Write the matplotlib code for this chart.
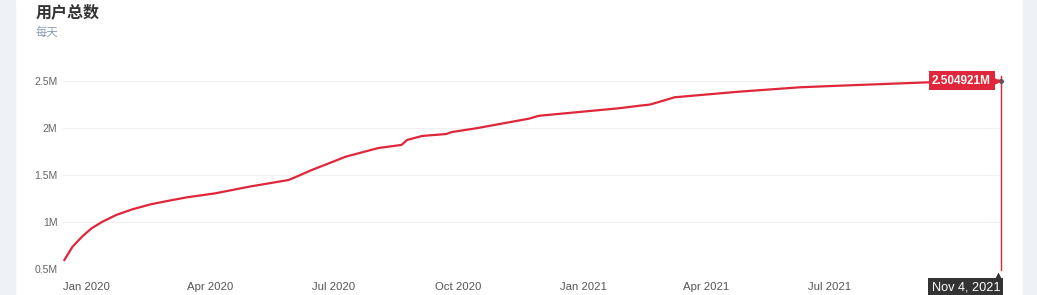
import numpy as np
import pandas as pd
import matplotlib
matplotlib.use('Agg')
import matplotlib.pyplot as plt
import matplotlib.dates as mdates
from matplotlib.patches import Rectangle
from matplotlib.transforms import offset_copy

plt.rcParams['font.family'] = ['Liberation Sans', 'Noto Sans CJK SC', 'DejaVu Sans']

# 用户总数（每天），从图上读出的近似值（单位：百万）
dates = ['2019-12-16', '2019-12-22', '2019-12-29', '2020-01-05', '2020-01-13',
         '2020-01-23', '2020-02-04', '2020-02-18', '2020-03-02', '2020-03-15',
         '2020-04-05', '2020-04-30', '2020-05-29', '2020-06-01', '2020-06-05',
         '2020-06-15', '2020-07-10', '2020-08-03', '2020-08-20', '2020-08-24',
         '2020-09-04', '2020-09-22', '2020-09-26', '2020-10-14', '2020-11-22',
         '2020-11-29', '2021-01-27', '2021-02-11', '2021-02-19', '2021-03-09',
         '2021-04-25', '2021-06-09', '2021-07-08', '2021-09-10', '2021-10-10',
         '2021-11-04']
users = [0.596, 0.737, 0.844, 0.933, 1.003,
         1.074, 1.135, 1.19, 1.227, 1.262,
         1.305, 1.376, 1.447, 1.465, 1.49,
         1.553, 1.695, 1.787, 1.82, 1.872,
         1.915, 1.936, 1.957, 1.997, 2.10,
         2.13, 2.21, 2.237, 2.25, 2.327,
         2.386, 2.433, 2.45, 2.485, 2.495,
         2.504921]
yticks = [0.5, 1.0, 1.5, 2.0, 2.5]
ytick_labels = ['0.5M', '1M', '1.5M', '2M', '2.5M']
xticks = ['2020-01-01', '2020-04-01', '2020-07-01', '2020-10-01',
          '2021-01-01', '2021-04-01', '2021-07-01']
title = '用户总数'
subtitle = '每天'
last_label = '2.504921M'
date_label = 'Nov 4, 2021'

x = pd.to_datetime(dates)
y = np.array(users) * 1e6
red = '#e0263a'

W, H = 1037, 295
fig = plt.figure(figsize=(W / 100, H / 100), dpi=100)
fig.patch.set_facecolor('white')
# 卡片两侧的灰色页面背景
fig.patches.append(Rectangle((0, 0), 15 / W, 1, transform=fig.transFigure,
                             color='#eef1f5', zorder=0))
fig.patches.append(Rectangle((1023 / W, 0), 1 - 1023 / W, 1, transform=fig.transFigure,
                             color='#eef1f5', zorder=0))

ax = fig.add_axes([63 / W, 1 - 269 / H, (1001 - 63) / W, (269 - 70) / H])
ax.set_facecolor('none')
ax.plot(x, y, color=red, lw=1.6, zorder=3)

ax.set_xlim(pd.Timestamp('2019-12-15'), x[-1])
ax.set_ylim(0.5e6, 2.617e6)
for s in ax.spines.values():
    s.set_visible(False)
ax.set_yticks(np.array(yticks) * 1e6)
ax.set_yticklabels(ytick_labels)
ax.set_xticks(pd.to_datetime(xticks))
ax.xaxis.set_major_formatter(mdates.DateFormatter('%b %Y'))
ax.tick_params(axis='y', length=0, pad=4, labelsize=7.5, labelcolor='#666666')
ax.tick_params(axis='x', length=0, pad=9, labelsize=8.2, labelcolor='#555555')
ax.grid(axis='y', color='#f0f0f0', lw=0.8)
ax.grid(axis='x', visible=False)

# 最后一个点的十字线
ax.axvline(x[-1], ymin=-0.005, ymax=0.97, color=red, lw=1, zorder=4, clip_on=False)
ax.plot([x[-1]], [y[-1]], marker='o', ms=2.5, color='#555555', zorder=5, clip_on=False)

# 数值标签（带箭头）
tr = offset_copy(ax.transData, fig=fig, x=-10 * 0.72, y=0, units='points')
ax.text(x[-1], y[-1], last_label, transform=tr, ha='right', va='center',
        color='white', fontsize=8.5, fontweight='bold', zorder=6,
        bbox=dict(boxstyle='square,pad=0.3', fc=red, ec='none'))
tr2 = offset_copy(ax.transData, fig=fig, x=-5 * 0.72, y=0, units='points')
ax.plot([x[-1]], [y[-1]], marker='>', ms=7, color=red, mec='none',
        transform=tr2, zorder=6, clip_on=False)

# 底部日期标签
ax.text(x[-1], 0, date_label, transform=offset_copy(ax.get_xaxis_transform(), fig=fig,
        x=-1 * 0.72, y=-18 * 0.72, units='points'),
        ha='right', va='center', color='white', fontsize=9.2, zorder=6,
        bbox=dict(boxstyle='square,pad=0.25', fc='#333333', ec='none'))
ax.plot([x[-1]], [0], marker='^', ms=6, color='#333333', mec='none',
        transform=offset_copy(ax.get_xaxis_transform(), fig=fig, x=-3 * 0.72,
                              y=-7 * 0.72, units='points'),
        zorder=6, clip_on=False)

fig.text(36 / W, 1 - 12 / H, title, fontsize=11.5, fontweight='bold', color='#333333',
         va='center', ha='left', family=['Noto Sans CJK SC', 'DejaVu Sans'])
fig.text(36 / W, 1 - 33 / H, subtitle, fontsize=8.2, color='#8a9bb0',
         va='center', ha='left', family=['Noto Sans CJK SC', 'DejaVu Sans'])

fig.savefig('out.png', dpi=100)
